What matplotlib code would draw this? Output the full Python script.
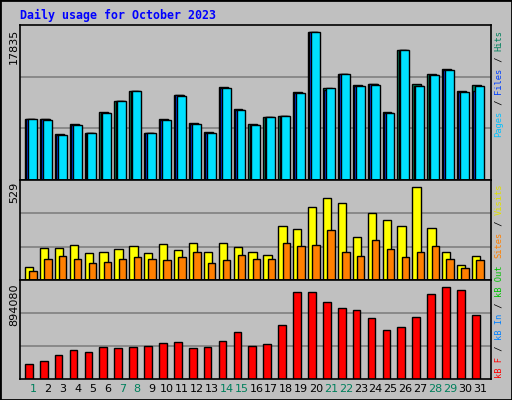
import numpy as np
import matplotlib.pyplot as plt

days = np.arange(1, 32)
hits = [7303, 7303, 5488, 6698, 5609, 8151, 9482, 10693, 5609, 7303, 10209, 6819, 5730, 11177, 8514,
        6698, 7545, 7667, 10572, 17835, 11056, 12751, 11419, 11580, 8151, 15656, 11540, 12751, 13356, 10693, 11419]
files = [7303, 7303, 5450, 6650, 5609, 8100, 9482, 10693, 5609, 7260, 10209, 6780, 5690, 11100, 8470,
         6650, 7545, 7667, 10520, 17835, 10800, 12751, 11380, 11540, 8100, 15656, 11380, 12700, 13300, 10650, 10690]
pages = [7303, 7180, 5370, 6580, 5609, 8030, 9482, 10693, 5609, 7180, 10090, 6700, 5609, 11050, 8390,
         6580, 7545, 7667, 10450, 17835, 11056, 12751, 11300, 11420, 8030, 15656, 11300, 12600, 13300, 10570, 11300]
visits = [76, 180, 180, 197, 151, 162, 174, 191, 151, 202, 168, 208, 162, 208, 185,
          157, 145, 306, 288, 414, 466, 437, 243, 380, 340, 306, 529, 294, 157, 88, 134]
sites = [53, 122, 134, 122, 99, 105, 122, 128, 117, 111, 128, 157, 94, 111, 145,
         117, 117, 208, 191, 197, 283, 162, 139, 225, 174, 128, 162, 191, 117, 71, 111]
kbytes = [150000, 179000, 238000, 277000, 258000, 307000, 297000, 307000, 317000, 346000, 356000, 297000,
          307000, 365000, 454000, 317000, 336000, 522000, 845000, 845000, 747000, 688000, 669000, 591000,
          473000, 503000, 600000, 826000, 894080, 865000, 620000]
weekends = [1, 7, 8, 14, 15, 21, 22, 28, 29]

W, H = 512, 400
GRAY = '#c0c0c0'
fig = plt.figure(figsize=(5.12, 4.0), dpi=100, facecolor=GRAY)
fig.patches.append(plt.Rectangle((0, 0), 1, 1, transform=fig.transFigure, fill=False,
                                 edgecolor='black', linewidth=2))


def make_axes(top, bottom, vmax, frac):
    ax = fig.add_axes([20 / W, 1 - bottom / H, 471 / W, (bottom - top) / H])
    ax.set_facecolor(GRAY)
    ylim = vmax / frac
    ax.set_ylim(0, ylim)
    ax.set_xlim(0.13, 31.74)
    for g in (ylim / 3, 2 * ylim / 3):
        ax.axhline(g, color='#808080', linewidth=1.2, zorder=0)
    ax.set_xticks([])
    ax.set_yticks([])
    for s in ax.spines.values():
        s.set_color('black')
        s.set_linewidth(1.2)
    return ax


kw = dict(align='edge', edgecolor='black', linewidth=1)

ax1 = make_axes(25, 180, max(hits), 148 / 155)
ax1.bar(days - 0.54, hits, 0.6, color='#00805c', **kw)
ax1.bar(days - 0.45, files, 0.6, color='#0040ff', **kw)
ax1.bar(days - 0.34, pages, 0.6, color='#00e0ff', **kw)

ax2 = make_axes(180, 280, max(visits), 93 / 100)
ax2.bar(days - 0.54, visits, 0.56, color='#ffff00', **kw)
ax2.bar(days - 0.25, sites, 0.5, color='#ff8000', **kw)

ax3 = make_axes(280, 379, max(kbytes), 92 / 99)
ax3.bar(days - 0.54, kbytes, 0.52, color='#ff0000', **kw)
for d in days:
    ax3.text(d, -0.05, str(d), transform=ax3.get_xaxis_transform(), ha='center', va='top',
             fontsize=8, color='#00805c' if d in weekends else 'black')

fig.text(20 / W, 1 - 15 / H, 'Daily usage for October 2023', color='#0000ff', fontsize=8.4,
         fontweight='bold', family='DejaVu Sans Mono', va='center')

for label, ytop in (('17835', 29), ('529', 182), ('894080', 283)):
    fig.text(14 / W, 1 - ytop / H, label, rotation=90, fontsize=8, ha='center', va='top')


def side_label(parts, ybottom, step=5.4):
    y = ybottom
    for txt, col in parts:
        fig.text(499 / W, 1 - y / H, txt, rotation=90, color=col, fontsize=6.3,
                 family='DejaVu Sans Mono', ha='center', va='bottom')
        y -= step * len(txt)


side_label([('Pages', '#00c0ff'), (' / ', 'black'), ('Files', '#0040ff'),
            (' / ', 'black'), ('Hits', '#00805c')], 137)
side_label([('Sites', '#ff8000'), (' / ', 'black'), ('Visits', '#e0e000')], 258)
side_label([('kB F', '#ff0000'), (' / ', 'black'), ('kB In', '#0080ff'),
            (' / ', 'black'), ('kB Out', '#00c000')], 378)

fig.savefig('out.png', dpi=100, facecolor=GRAY)
